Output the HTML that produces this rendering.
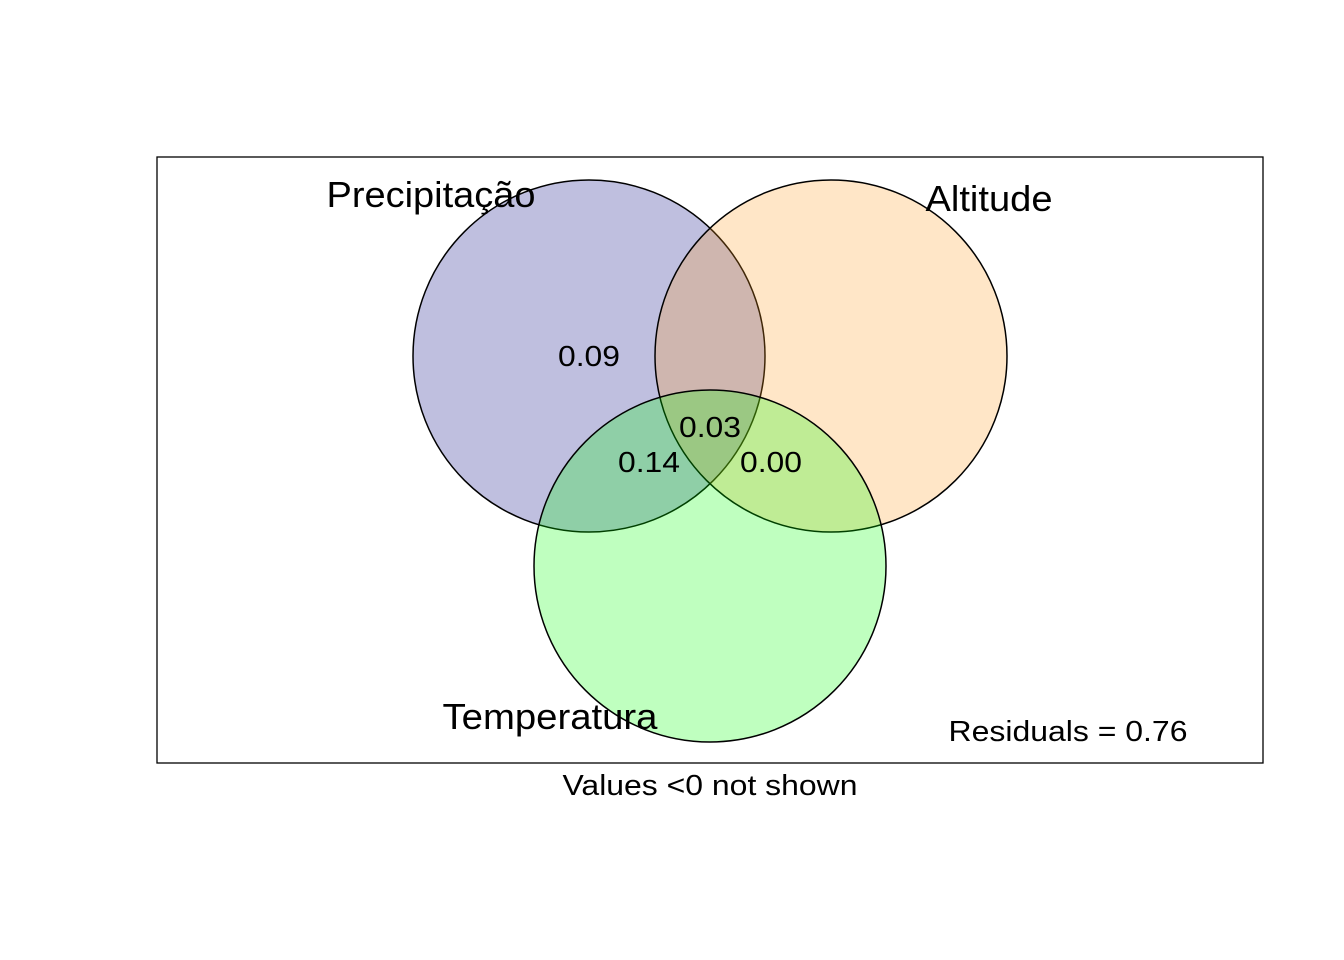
<!DOCTYPE html>
<html><head><meta charset="utf-8"><style>
body{margin:0;background:#fff}
svg{display:block;font-family:"Liberation Sans",Arial,sans-serif}
</style></head><body>
<svg id="chart" width="1344" height="960" viewBox="0 0 1344 960">
<rect x="157" y="157" width="1106" height="606" fill="none" stroke="#000" stroke-width="1.3"/>
<g id="circles"></g>
<g id="labels"></g>
<text x="1068" y="741" font-size="29" text-anchor="middle" textLength="239" lengthAdjust="spacingAndGlyphs">Residuals = 0.76</text>
<text x="710" y="795" font-size="29" text-anchor="middle" textLength="295" lengthAdjust="spacingAndGlyphs">Values &lt;0 not shown</text>
</svg>
<script>
const setNames = ["Precipitação", "Altitude", "Temperatura"];
const setColors = ["navy", "#ff9a20", "#00ff00"];
const fractionLabels = ["0.09", "0.03", "0.14", "0.00"];
const residual = 0.76;
const ns = "http://www.w3.org/2000/svg";
const cx = [589, 831, 710], cy = [356, 356, 566], r = 176;
const cg = document.getElementById('circles');
setNames.forEach((n, i) => {
  const c = document.createElementNS(ns, 'circle');
  c.setAttribute('cx', cx[i]); c.setAttribute('cy', cy[i]); c.setAttribute('r', r);
  c.setAttribute('fill', setColors[i]); c.setAttribute('fill-opacity', '0.25');
  c.setAttribute('stroke', '#000'); c.setAttribute('stroke-width', '1.5');
  
  
  cg.appendChild(c);
});
const lg = document.getElementById('labels');
const namePos = [[431, 207, 'set-label-precipitacao', 209], [989, 211, 'set-label-altitude', 127], [550, 729, 'set-label-temperatura', 215]];
setNames.forEach((n, i) => {
  const t = document.createElementNS(ns, 'text');
  t.setAttribute('x', namePos[i][0]); t.setAttribute('y', namePos[i][1]);
  t.setAttribute('font-size', '36'); t.setAttribute('text-anchor', 'middle');
  t.setAttribute('textLength', namePos[i][3]); t.setAttribute('lengthAdjust', 'spacingAndGlyphs');
  t.textContent = n;
  
  
  lg.appendChild(t);
});
const fracPos = [[589, 366], [710, 437], [649, 472], [771, 472]];
fractionLabels.forEach((v, i) => {
  const t = document.createElementNS(ns, 'text');
  t.setAttribute('x', fracPos[i][0]); t.setAttribute('y', fracPos[i][1]);
  t.setAttribute('font-size', '29'); t.setAttribute('text-anchor', 'middle');
  t.setAttribute('textLength', '62'); t.setAttribute('lengthAdjust', 'spacingAndGlyphs');
  t.textContent = v;
  
  
  lg.appendChild(t);
});
</script>
</body></html>
